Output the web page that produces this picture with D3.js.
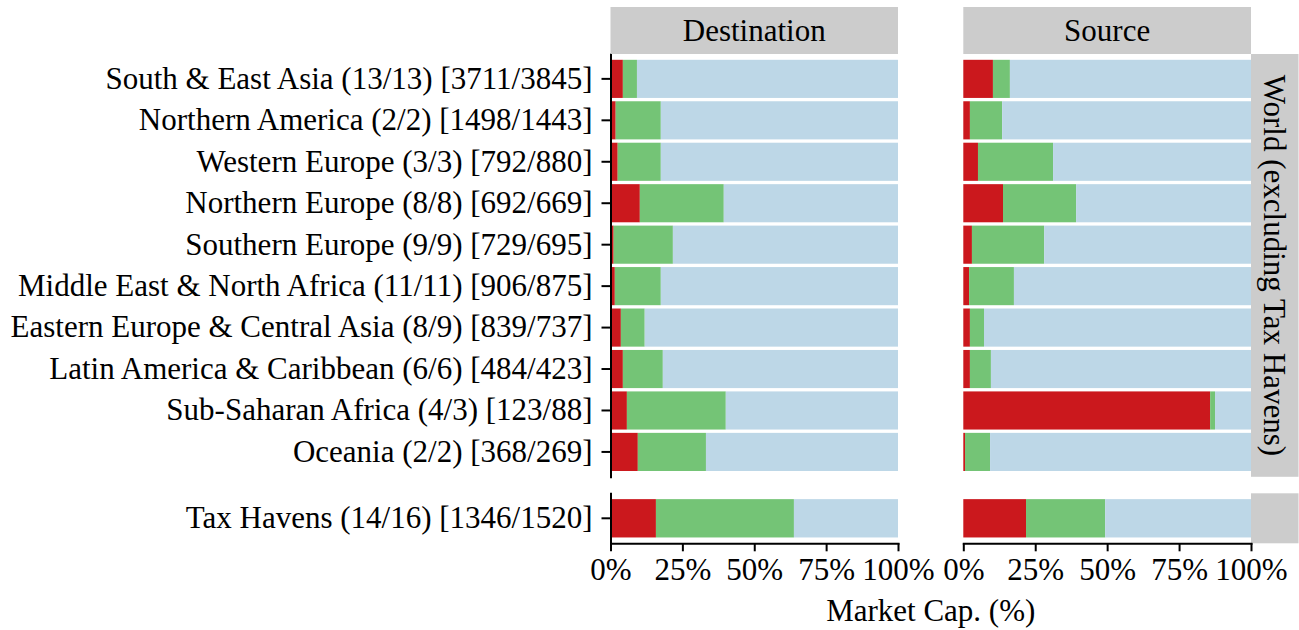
<!DOCTYPE html>
<html>
<head>
<meta charset="utf-8">
<script src="https://cdn.jsdelivr.net/npm/d3@7"></script>
<style>
  body { margin: 0; background: #fff; }
  text { font-family: "Liberation Serif", "Times New Roman", serif; fill: #000; }
</style>
</head>
<body>
<svg id="chart" width="1299" height="630"></svg>
<script>
// Regions of the world (count of countries, [firms])
const regions = [
  "South & East Asia (13/13) [3711/3845]",
  "Northern America (2/2) [1498/1443]",
  "Western Europe (3/3) [792/880]",
  "Northern Europe (8/8) [692/669]",
  "Southern Europe (9/9) [729/695]",
  "Middle East & North Africa (11/11) [906/875]",
  "Eastern Europe & Central Asia (8/9) [839/737]",
  "Latin America & Caribbean (6/6) [484/423]",
  "Sub-Saharan Africa (4/3) [123/88]",
  "Oceania (2/2) [368/269]"
];
const havens = ["Tax Havens (14/16) [1346/1520]"];

// Market-cap shares (%) per segment, Destination side
const destRed   = [4.3, 1.8, 2.5, 10.2, 1.1, 1.5, 3.6, 4.3, 5.7, 9.5];
const destGreen = [4.9, 15.7, 15.0, 29.2, 20.6, 16.0, 8.3, 13.9, 34.4, 23.7];
const destBlue  = [90.8, 82.5, 82.5, 60.6, 78.3, 82.5, 88.1, 81.8, 59.9, 66.8];

// Market-cap shares (%) per segment, Source side
const srcRed   = [10.3, 2.3, 5.1, 13.8, 3.0, 2.0, 2.3, 2.3, 85.8, 0.6];
const srcGreen = [5.9, 11.2, 26.1, 25.4, 25.1, 15.6, 4.9, 7.3, 1.7, 8.7];
const srcBlue  = [83.8, 86.5, 68.8, 60.8, 71.9, 82.4, 92.8, 90.4, 12.5, 90.7];

// Tax havens: [red, green, blue]
const havenDest = [15.8, 48.0, 36.2];
const havenSrc  = [21.8, 27.5, 50.7];

const xTicks = [0, 25, 50, 75, 100];
const colLabels = ["Destination", "Source"];
const rowLabels = ["World (excluding Tax Havens)", ""];
const segKeys = ["red", "green", "blue"];
const segColors = ["#CB181D", "#74C476", "#BDD7E7"];

const svg = d3.select("#chart");
const FONT = 31;
const stripFill = "#CCCCCC";

// Facet geometry
const cols = [{ x0: 610.5, x1: 898 }, { x0: 963.3, x1: 1251 }];
const rows = [{ y0: 54, y1: 476.8, cats: regions }, { y0: 493.3, y1: 543.3, cats: havens }];
const stripTop = 7, stripRight = 1298.5;

function tableFor(cats, r, g, b) {
  return cats.map((c, i) => ({ cat: c, red: r[i], green: g[i], blue: b[i] }));
}
const tables = [
  [tableFor(regions, destRed, destGreen, destBlue), tableFor(regions, srcRed, srcGreen, srcBlue)],
  [tableFor(havens, [havenDest[0]], [havenDest[1]], [havenDest[2]]),
   tableFor(havens, [havenSrc[0]], [havenSrc[1]], [havenSrc[2]])]
];

const stack = d3.stack().keys(segKeys);
const color = d3.scaleOrdinal().domain(segKeys).range(segColors);

const xScales = cols.map(c => d3.scaleLinear().domain([0, 100]).range([c.x0, c.x1]));

rows.forEach((row, ri) => {
  const y = d3.scaleBand().domain(row.cats).range([row.y0, row.y1])
    .paddingInner(0.08).paddingOuter(0.14);

  cols.forEach((col, ci) => {
    const x = xScales[ci];
    const series = stack(tables[ri][ci]);
    const g = svg.append("g");
    g.selectAll("g").data(series).join("g")
      .attr("fill", d => color(d.key))
      .selectAll("rect").data(d => d).join("rect")
      .attr("x", d => x(d[0]))
      .attr("width", d => x(d[1]) - x(d[0]))
      .attr("y", d => y(d.data.cat))
      .attr("height", y.bandwidth());
  });

  // Left axis on the first column
  const ya = svg.append("g")
    .attr("transform", `translate(${cols[0].x0},0)`)
    .call(d3.axisLeft(y).tickSize(9).tickSizeOuter(0).tickPadding(9));
  ya.selectAll("text").style("font-size", FONT + "px");
  ya.selectAll("line, path").attr("stroke", "#000").attr("stroke-width", 2);

  // Row strip on the right
  svg.append("rect").attr("x", cols[1].x1).attr("y", row.y0)
    .attr("width", stripRight - cols[1].x1).attr("height", row.y1 - row.y0)
    .attr("fill", stripFill);
  if (rowLabels[ri]) {
    const cx = (cols[1].x1 + stripRight) / 2, cy = (row.y0 + row.y1) / 2;
    svg.append("text")
      .attr("transform", `translate(${cx},${cy}) rotate(90)`)
      .attr("text-anchor", "middle").attr("dy", "0.35em")
      .style("font-size", FONT + "px")
      .text(rowLabels[ri]);
  }
});

// Column strips and bottom axes
cols.forEach((col, ci) => {
  svg.append("rect").attr("x", col.x0).attr("y", stripTop)
    .attr("width", col.x1 - col.x0).attr("height", rows[0].y0 - stripTop)
    .attr("fill", stripFill);
  svg.append("text")
    .attr("x", (col.x0 + col.x1) / 2).attr("y", (stripTop + rows[0].y0) / 2)
    .attr("text-anchor", "middle").attr("dy", "0.35em")
    .style("font-size", FONT + "px")
    .text(colLabels[ci]);

  const xa = svg.append("g")
    .attr("transform", `translate(0,${rows[1].y1})`)
    .call(d3.axisBottom(xScales[ci]).tickValues(xTicks).tickFormat(d => d + "%")
      .tickSize(8).tickSizeOuter(0).tickPadding(7));
  xa.selectAll("text").style("font-size", FONT + "px");
  xa.selectAll("line, path").attr("stroke", "#000").attr("stroke-width", 2);
});

svg.selectAll(".domain").attr("stroke-linecap", "square");

// Axis title
svg.append("text")
  .attr("x", (cols[0].x0 + cols[1].x1) / 2).attr("y", 621)
  .attr("text-anchor", "middle")
  .style("font-size", FONT + "px")
  .text("Market Cap. (%)");
</script>
</body>
</html>
